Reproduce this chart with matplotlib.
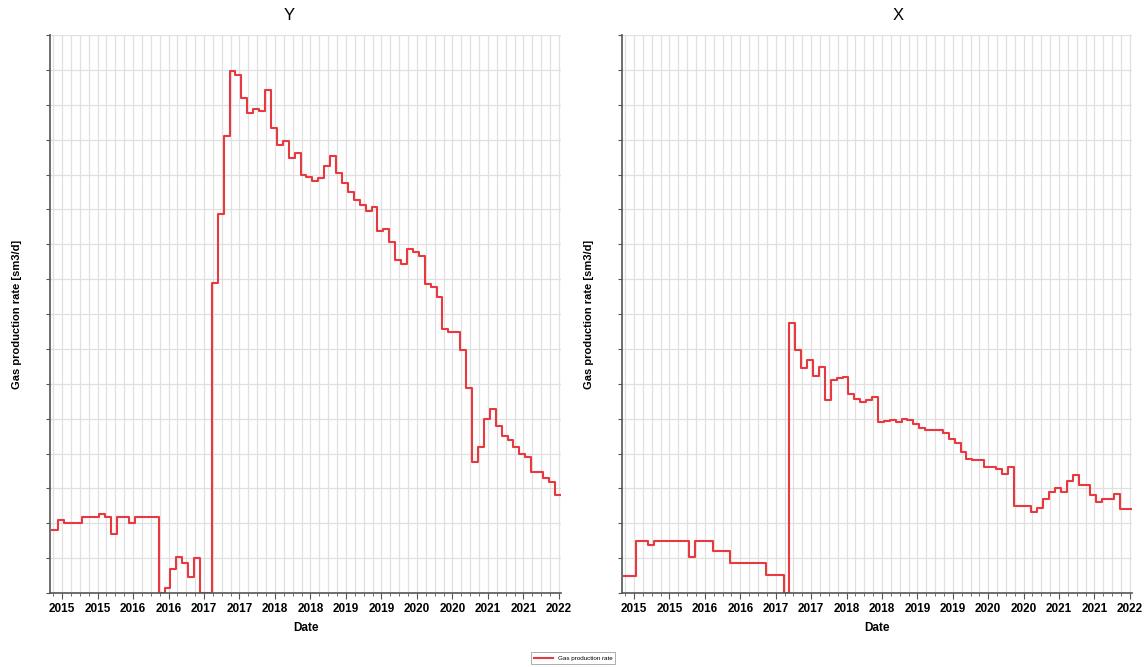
import matplotlib
matplotlib.use('Agg')
import matplotlib.pyplot as plt
import numpy as np

plt.rcParams['font.family'] = ['Liberation Sans', 'DejaVu Sans']

# monthly values, first month starts at start_year
start_year = 2014.86

rate_Y = [1.8, 2.09, 2.0, 2.0, 2.0, 2.19, 2.19, 2.19, 2.26, 2.19,
          1.68, 2.19, 2.19, 2.0, 2.19, 2.19, 2.19, 2.19, 0.0, 0.14,
          0.68, 1.03, 0.86, 0.46, 1.0, 0.0, 0.0, 8.88, 10.86, 13.1,
          14.97, 14.84, 14.2, 13.75, 13.87, 13.83, 14.41, 13.33, 12.86, 12.95,
          12.47, 12.62, 11.98, 11.93, 11.81, 11.91, 12.23, 12.52, 12.03, 11.76,
          11.5, 11.26, 11.12, 10.95, 11.07, 10.37, 10.45, 10.07, 9.56, 9.43,
          9.86, 9.78, 9.67, 8.87, 8.78, 8.49, 7.58, 7.49, 7.49, 6.98,
          5.89, 3.76, 4.19, 4.98, 5.29, 4.79, 4.5, 4.38, 4.19, 4.0,
          3.89, 3.48, 3.48, 3.29, 3.19, 2.81]

rate_X = [0.49, 0.49, 1.49, 1.49, 1.38, 1.49, 1.49, 1.49, 1.49, 1.49,
          1.49, 1.03, 1.49, 1.49, 1.49, 1.2, 1.2, 1.2, 0.86, 0.86,
          0.86, 0.86, 0.86, 0.86, 0.52, 0.52, 0.52, 0.0, 7.74, 6.98,
          6.46, 6.68, 6.22, 6.48, 5.53, 6.1, 6.17, 6.2, 5.72, 5.56,
          5.48, 5.53, 5.62, 4.91, 4.93, 4.96, 4.9, 5.0, 4.95, 4.85,
          4.72, 4.68, 4.68, 4.68, 4.6, 4.42, 4.3, 4.05, 3.85, 3.8,
          3.8, 3.6, 3.6, 3.55, 3.4, 3.6, 2.5, 2.5, 2.5, 2.32,
          2.45, 2.7, 2.9, 3.0, 2.9, 3.2, 3.38, 3.1, 3.1, 2.8,
          2.6, 2.7, 2.7, 2.85, 2.4, 2.4]

wells = ['Y', 'X']
series = [rate_Y, rate_X]
tick_years = np.arange(2015, 2022.01, 0.5)
tick_labels = [str(int(t)) for t in tick_years]

fig = plt.figure(figsize=(11.46, 6.67), dpi=100)
axes = [fig.add_axes([50 / 1146, 74 / 667, 511 / 1146, 558 / 667]),
        fig.add_axes([622 / 1146, 74 / 667, 510 / 1146, 558 / 667])]

red = '#e8393f'
lines = []
for ax, vals, name in zip(axes, series, wells):
    vals = list(vals) + [vals[-1]]
    t = start_year + np.arange(len(vals)) / 12.0
    ln, = ax.step(t, vals, where='post', color=red, lw=1.5)
    lines.append(ln)

    ax.set_xlim(2014.83, 2022.03)
    ax.set_ylim(0, 16)
    ax.set_xticks(tick_years)
    ax.set_xticklabels(tick_labels, fontsize=8.5, fontweight='bold')
    ax.set_xticks(np.arange(2014.875, 2022.03, 0.125), minor=True)
    ax.set_yticks(np.arange(0, 17, 1))
    ax.set_yticklabels([])
    ax.grid(True, which='both', axis='x', color='#e0e0e0', lw=0.9)
    ax.grid(True, which='major', axis='y', color='#e0e0e0', lw=0.9)
    ax.set_axisbelow(True)
    for s in ['top', 'right']:
        ax.spines[s].set_visible(False)
    for s in ['left', 'bottom']:
        ax.spines[s].set_color('#555555')
        ax.spines[s].set_linewidth(1.2)
    ax.tick_params(axis='x', which='major', length=4, color='#555555', pad=3)
    ax.tick_params(axis='x', which='minor', length=2, color='#555555')
    ax.tick_params(axis='y', length=3, color='#555555')
    ax.set_xlabel('Date', fontsize=8.5, fontweight='bold')
    ax.xaxis.set_label_coords(0.5, -0.052)
    ax.set_ylabel('Gas production rate [sm3/d]', fontsize=8, fontweight='bold')
    ax.yaxis.set_label_coords(-0.055, 0.5)

fig.text(289 / 1146, 1 - 15 / 667, wells[0], ha='center', va='center', fontsize=12)
fig.text(898 / 1146, 1 - 15 / 667, wells[1], ha='center', va='center', fontsize=12)

leg = fig.legend([lines[0]], ['Gas production rate'], loc='center',
                 bbox_to_anchor=(573 / 1146, 1 - 658 / 667), fontsize=4.5,
                 frameon=True, fancybox=False, edgecolor='#888888',
                 handlelength=3, borderpad=0.5)
leg.get_frame().set_linewidth(0.6)

fig.savefig('out.png', dpi=100)
